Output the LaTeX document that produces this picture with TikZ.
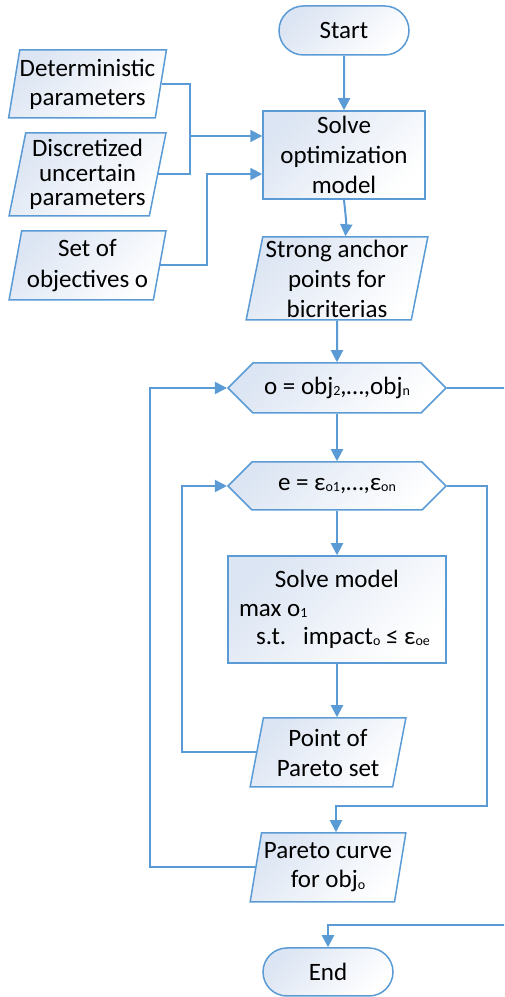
\documentclass[tikz,border=0pt]{standalone}
\usepackage{fontspec}
\setmainfont{Carlito}
\usetikzlibrary{arrows.meta,shapes.geometric,shapes.misc,shapes.symbols}
\definecolor{lineblue}{RGB}{91,155,213}
\definecolor{filltint}{RGB}{220,229,243}
\newcommand\lowtxt[1]{\raisebox{-0.05em}{\fontsize{14pt}{14pt}\selectfont #1}}
\tikzset{
  shapebase/.style={draw=lineblue, line width=1.5pt, top color=filltint, bottom color=white, shading angle=45,
    font=\fontsize{25pt}{30pt}\selectfont, inner sep=0pt, align=center},
  termbox/.style={shapebase, rounded rectangle, minimum width=130pt, minimum height=49pt},
  procbox/.style={shapebase, rectangle},
  iobox/.style={shapebase, trapezium, trapezium left angle=77.5, trapezium right angle=102.5, trapezium stretches=true},
  hexbox/.style={shapebase, signal, signal to=west and east, signal pointer angle=90, minimum width=218pt},
  conn/.style={draw=lineblue, line width=2pt, -{Triangle[length=12pt,width=12pt]}},
  wire/.style={draw=lineblue, line width=2pt},
}
\begin{document}
\begin{tikzpicture}[x=1pt,y=1pt]
\useasboundingbox (0,0) rectangle (504,997);
\clip (0,0) rectangle (504,997);

\node[termbox] (start) at (344,966.5) {Start};
\node[iobox, minimum width=157pt, minimum height=68pt, font=\fontsize{25pt}{29pt}\selectfont] (det) at (87.5,913) {Deterministic\\parameters};
\node[iobox, minimum width=157pt, minimum height=83pt, font=\fontsize{25pt}{24.7pt}\selectfont] (disc) at (87.5,822.5) {Discretized\\uncertain\\parameters};
\node[iobox, minimum width=157pt, minimum height=69pt, font=\fontsize{25pt}{31pt}\selectfont] (setobj) at (87.5,731.5) {Set of\\objectives o};
\node[procbox, minimum width=162pt, minimum height=88pt] (solve) at (344,842) {Solve\\optimization\\model};
\node[iobox, trapezium left angle=78.4, trapezium right angle=101.6, minimum width=182pt, minimum height=83pt] (anchor) at (337,718.5) {Strong anchor\\points for\\bicriterias};
\node[hexbox, minimum height=50pt] (hex1) at (337,609) {o = obj\lowtxt{2},…,obj\lowtxt{n}};
\node[hexbox, minimum height=48pt] (hex2) at (337,511) {e = ε\lowtxt{o1},…,ε\lowtxt{on}};
\node[procbox, minimum width=218pt, minimum height=107pt, align=left, font=\fontsize{25pt}{28.5pt}\selectfont] (model) at (337,387.5)
  {\makebox[196pt][c]{Solve model}\\\makebox[196pt][l]{max o\lowtxt{1}}\\\makebox[196pt][l]{\hspace*{17pt}s.t.\hspace{17pt}impact\lowtxt{o} ≤ ε\lowtxt{oe}}};
\node[iobox, minimum width=156pt, minimum height=69pt] (point) at (328,244.5) {Point of\\Pareto set};
\node[iobox, minimum width=156pt, minimum height=69pt, font=\fontsize{25pt}{29pt}\selectfont] (curve) at (328,129.5) {Pareto curve\\for obj\lowtxt{o}};
\node[termbox, minimum height=48pt] (end) at (328,25) {End};

\coordinate (j1) at (190,861);
\coordinate (j2) at (207,823);
\coordinate (r1) at (510,609);
\coordinate (r2) at (510,72);
\coordinate (r3) at (328,72);
\coordinate (s1) at (487,511);
\coordinate (s2) at (487,191);
\coordinate (s3) at (336,191);
\coordinate (c4) at (182,511);
\coordinate (c5) at (150,609);

\draw[conn] (start) -- (solve);
\draw[wire] (det.right side) -| (j1);
\draw[conn] (disc.right side) -| (j1) -- (solve.west |- j1);
\draw[conn] (setobj.right side) -| (j2) -- (solve.west |- j2);
\draw[conn] (solve.south) .. controls +(1,-10) and +(1,14) .. (anchor.top side);
\draw[conn] (anchor.south) -- (hex1.north);
\draw[conn] (hex1.south) -- (hex2.north);
\draw[conn] (hex2.south) -- (model.north);
\draw[conn] (model.south) -- (model.south |- point.top side);
\draw[conn] (point.left side) -| (c4) -- (hex2.west);
\draw[conn] (hex2.east) -- (s1) -- (s2) -- (s3) -- (s3 |- curve.top side);
\draw[conn] (curve.left side) -| (c5) -- (hex1.west);
\draw[conn] (hex1.east) -- (r1) -- (r2) -- (r3) -- (end.north);
\end{tikzpicture}
\end{document}
